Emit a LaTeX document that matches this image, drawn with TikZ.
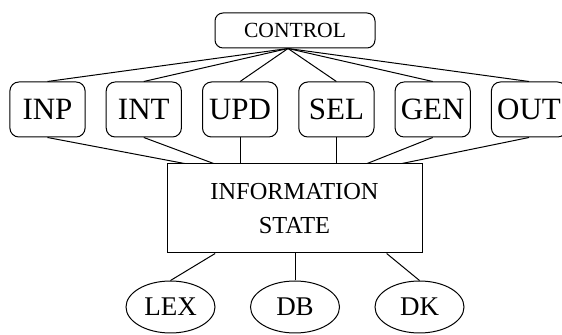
\documentclass[tikz,border=0pt]{standalone}
\usepackage{fontspec}
\setmainfont{Liberation Serif}
\usetikzlibrary{shapes,positioning,calc}
\tikzstyle{ctrl}=[draw, rounded corners=4pt, minimum width=80pt, minimum height=17.5pt, inner sep=0pt, font=\fontsize{10.8}{12}\selectfont]
\tikzstyle{mod}=[draw, rounded corners=4.5pt, minimum width=37.6pt, minimum height=27.5pt, inner sep=0pt, font=\fontsize{15.5}{18}\selectfont]
\tikzstyle{state}=[draw, minimum width=127.5pt, minimum height=44.5pt, inner sep=0pt, align=center, font=\fontsize{12.2}{17}\selectfont]
\tikzstyle{res}=[draw, ellipse, minimum width=44.5pt, minimum height=26pt, inner sep=0pt, font=\fontsize{13.5}{16}\selectfont]

\begin{document}
\begin{tikzpicture}[line width=0.5pt, node distance=10.05pt]
\useasboundingbox (0,0) rectangle (281pt,-167.5pt);

\node[ctrl] (control) at (147.5pt,-15.25pt) {CONTROL};

% modules
\node[mod] (inp) at (23.75pt,-54.75pt) {INP};
\node[mod, right=of inp] (int) {INT};
\node[mod, right=of int] (upd) {UPD};
\node[mod, right=of upd] (sel) {SEL};
\node[mod, right=of sel] (gen) {GEN};
\node[mod, right=of gen] (out) {OUT};

% information state
\node[state] (info) at (147.25pt,-104.25pt) {INFORMATION\\STATE};

% resources
\node[res] (db) at (147.5pt,-153.5pt) {DB};
\node[res, left=17.25pt of db] (lex) {LEX};
\node[res, right=17.25pt of db] (dk) {DK};

% connectors
\coordinate (ctl) at ([xshift=-3.5pt]control.south);
\foreach \m in {inp,int,upd,sel,gen,out}
  \draw (ctl) -- (\m.north);
\foreach \m/\f in {inp/0.07, int/0.184, gen/0.784, out/0.92}
  \draw (\m.south) -- ($(info.north west)!\f!(info.north east)$);
\foreach \m in {upd,sel}
  \draw (\m.south) -- (\m.south |- info.north);
\draw ($(info.south west)!0.19!(info.south east)$) -- (lex.north);
\draw (db.north |- info.south) -- (db.north);
\draw ($(info.south west)!0.86!(info.south east)$) -- (dk.north);

\end{tikzpicture}
\end{document}
